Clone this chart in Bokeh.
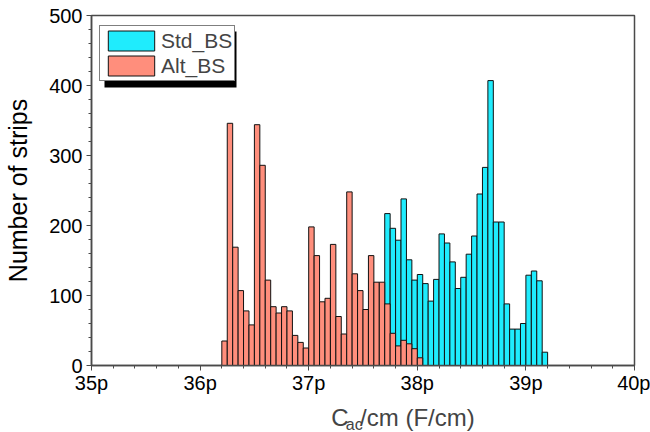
import math
from bokeh.plotting import figure
from bokeh.layouts import column
from bokeh.models import (Range1d, SingleIntervalTicker, PrintfTickFormatter, Legend,
                          LegendItem, BoxAnnotation, Label)
from bokeh.embed import file_html
from bokeh.resources import INLINE

# ---- data (counts per 0.05 pF/cm bin) ----
bin_width = 0.05
alt_start = 36.20
alt_counts = [35, 346, 169, 107, 78, 58, 344, 286, 122, 84, 75, 84, 78, 43, 33, 25,
              198, 157, 91, 96, 173, 70, 45, 248, 131, 107, 80, 157, 119, 119,
              88, 46, 28, 36, 31, 24, 11]
std_start = 37.70
std_counts = [217, 196, 179, 238, 151, 122, 130, 117, 92, 123, 188, 175, 148, 110, 126,
              159, 185, 245, 283, 407, 205, 205, 88, 52, 52, 60, 129, 135, 121, 19]
series_names = ["Std_BS", "Alt_BS"]
y_title = "Number of strips"
x_title_parts = ["C", "ac", "/cm (F/cm)"]

std_x = [std_start + bin_width * (i + 0.5) for i in range(len(std_counts))]
alt_x = [alt_start + bin_width * (i + 0.5) for i in range(len(alt_counts))]

CYAN = "#1fecfd"
SALMON = "#ff8e7c"
FONT = "Liberation Sans"
AXIS = "#4a4a4a"

p = figure(width=650, height=396, output_backend="svg", toolbar_location=None,
           x_range=Range1d(35, 40), y_range=Range1d(0, 500),
           min_border_left=91, min_border_right=16, min_border_top=15, min_border_bottom=30)
p.grid.visible = False
p.outline_line_color = AXIS
p.outline_line_width = 1.5

r_std = p.vbar(x=std_x, top=std_counts, width=bin_width, bottom=0,
               fill_color=CYAN, line_color="#111111", line_width=1)
r_alt = p.vbar(x=alt_x, top=alt_counts, width=bin_width, bottom=0,
               fill_color=SALMON, line_color="#111111", line_width=1)

for ax in (p.xaxis[0], p.yaxis[0]):
    ax.axis_line_color = AXIS
    ax.axis_line_width = 1.5
    ax.major_tick_line_color = AXIS
    ax.minor_tick_line_color = AXIS
    ax.major_tick_in = 0
    ax.minor_tick_in = 0
    ax.major_tick_out = 5
    ax.minor_tick_out = 3
    ax.major_label_text_font = FONT
    ax.major_label_text_font_size = "20px"
    ax.major_label_text_color = "black"

p.xaxis[0].ticker = SingleIntervalTicker(interval=1, num_minor_ticks=5)
p.xaxis[0].formatter = PrintfTickFormatter(format="%dp")
p.xaxis[0].major_label_standoff = 1
p.yaxis[0].ticker = SingleIntervalTicker(interval=100, num_minor_ticks=5)
p.yaxis[0].major_label_standoff = 4
p.yaxis[0].axis_label = y_title
p.yaxis[0].axis_label_text_font = FONT
p.yaxis[0].axis_label_text_font_size = "25px"
p.yaxis[0].axis_label_text_font_style = "normal"
p.yaxis[0].axis_label_text_color = "black"
p.yaxis[0].axis_label_standoff = 14

# legend shadow
shadow = BoxAnnotation(left=13, right=145, top=334, bottom=278,
                       left_units="screen", right_units="screen",
                       top_units="screen", bottom_units="screen",
                       fill_color="black", fill_alpha=1, line_color=None)
p.add_layout(shadow)

legend = Legend(items=[LegendItem(label=series_names[0], renderers=[r_std]),
                       LegendItem(label=series_names[1], renderers=[r_alt])],
                location=(8, 284), padding=2, spacing=0, margin=0,
                glyph_width=58, glyph_height=25, label_height=25, label_standoff=1,
                label_text_font=FONT, label_text_font_size="21px",
                border_line_color="black", border_line_width=1,
                background_fill_color="white", background_fill_alpha=1)
p.add_layout(legend)

# x-axis title with subscript, on a strip below the plot
t = figure(width=650, height=36, output_backend="svg", toolbar_location=None,
           x_range=Range1d(0, 650), y_range=Range1d(0, 36),
           x_axis_type=None, y_axis_type=None, min_border=0)
t.grid.visible = False
t.outline_line_color = None
t.add_layout(Label(x=287, y=15, text=x_title_parts[0], text_font=FONT,
                   text_font_size="24px", text_baseline="alphabetic"))
t.add_layout(Label(x=304.5, y=8, text=x_title_parts[1], text_font=FONT,
                   text_font_size="16px", text_baseline="alphabetic"))
t.add_layout(Label(x=321.5, y=15, text=x_title_parts[2], text_font=FONT,
                   text_font_size="24px", text_baseline="alphabetic"))

layout = column(p, t, spacing=0)
open("out.html", "w").write(file_html(layout, INLINE))
